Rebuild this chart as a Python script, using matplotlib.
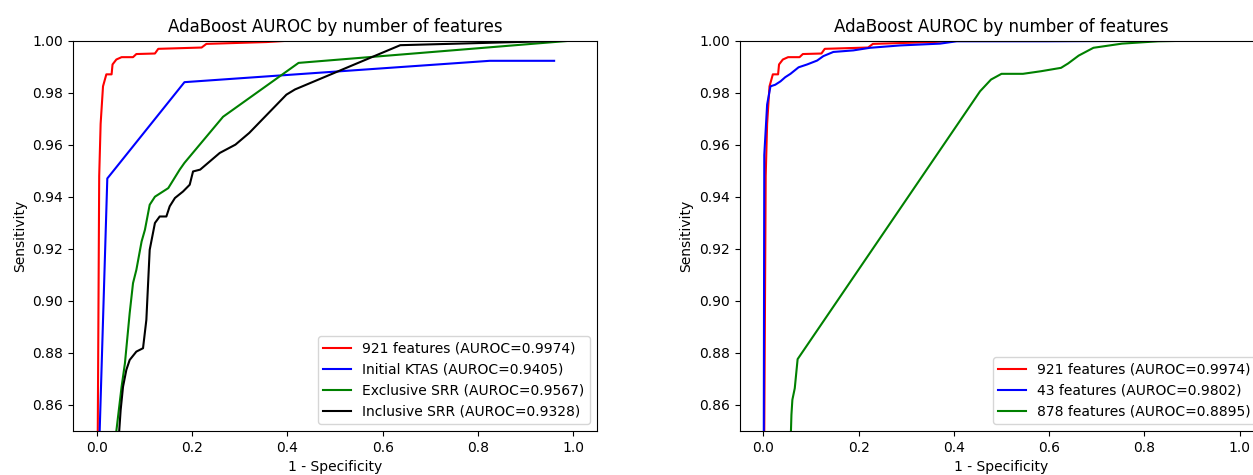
import numpy as np
import matplotlib
matplotlib.use('Agg')
import matplotlib.pyplot as plt

# 921 features (same curve in both panels)
fpr_921 = [0.0, 0.002, 0.005, 0.008, 0.013, 0.020, 0.031, 0.033, 0.041, 0.052, 0.076, 0.083,
           0.122, 0.129, 0.220, 0.230, 0.356, 0.410, 1.0]
tpr_921 = [0.0, 0.850, 0.948, 0.968, 0.9824, 0.987, 0.987, 0.9908, 0.9927, 0.9936, 0.9936, 0.9948,
           0.9950, 0.9968, 0.9973, 0.9987, 0.9994, 1.0, 1.0]

# Initial KTAS
fpr_ktas = [0.0, 0.006, 0.022, 0.184, 0.825, 0.960]
tpr_ktas = [0.0, 0.850, 0.947, 0.984, 0.9922, 0.9922]

# Exclusive SRR
fpr_excl = [0.0, 0.041, 0.045, 0.052, 0.059, 0.069, 0.076, 0.083, 0.094, 0.101, 0.111, 0.122,
            0.150, 0.174, 0.184, 0.265, 0.4235, 1.0]
tpr_excl = [0.0, 0.850, 0.8562, 0.867, 0.876, 0.8953, 0.9068, 0.9119, 0.9228, 0.9273, 0.9369, 0.940,
            0.9433, 0.9504, 0.953, 0.9707, 0.9914, 1.0]

# Inclusive SRR
fpr_incl = [0.0, 0.047, 0.050, 0.055, 0.062, 0.069, 0.083, 0.097, 0.104, 0.111, 0.122, 0.132,
            0.146, 0.153, 0.164, 0.181, 0.195, 0.202, 0.217, 0.258, 0.291, 0.320, 0.398, 0.416,
            0.637, 1.0]
tpr_incl = [0.0, 0.850, 0.858, 0.867, 0.8735, 0.8773, 0.8805, 0.8818, 0.8927, 0.9196, 0.9299, 0.9324,
            0.9324, 0.9363, 0.9395, 0.9420, 0.9446, 0.9497, 0.9504, 0.9568, 0.960, 0.9645, 0.9792, 0.9812,
            0.9982, 1.0]

# 43 features
fpr_43 = [0.0, 0.001, 0.002, 0.008, 0.015, 0.025, 0.036, 0.046, 0.057, 0.074, 0.092, 0.113, 0.126,
          0.147, 0.189, 0.224, 0.287, 0.371, 0.406, 0.595, 1.0]
tpr_43 = [0.0, 0.850, 0.956, 0.9754, 0.9824, 0.983, 0.9843, 0.9859, 0.9872, 0.9897, 0.9908, 0.9923,
          0.994, 0.9956, 0.9962, 0.9972, 0.9981, 0.9988, 0.9997, 0.9997, 1.0]

# 878 features
fpr_878 = [0.0, 0.058, 0.059, 0.061, 0.066, 0.072, 0.455, 0.478, 0.500, 0.545, 0.583, 0.625, 0.640,
           0.662, 0.693, 0.753, 0.829, 0.919, 1.0]
tpr_878 = [0.0, 0.850, 0.8562, 0.862, 0.8664, 0.8776, 0.9805, 0.985, 0.9872, 0.9872, 0.9882, 0.9895, 0.9912,
           0.9942, 0.9972, 0.9988, 0.9997, 1.0, 1.0]

left_curves = [
    (fpr_921, tpr_921, 'red', '921 features (AUROC=0.9974)'),
    (fpr_ktas, tpr_ktas, 'blue', 'Initial KTAS (AUROC=0.9405)'),
    (fpr_excl, tpr_excl, 'green', 'Exclusive SRR (AUROC=0.9567)'),
    (fpr_incl, tpr_incl, 'black', 'Inclusive SRR (AUROC=0.9328)'),
]
right_curves = [
    (fpr_921, tpr_921, 'red', '921 features (AUROC=0.9974)'),
    (fpr_43, tpr_43, 'blue', '43 features (AUROC=0.9802)'),
    (fpr_878, tpr_878, 'green', '878 features (AUROC=0.8895)'),
]

fig = plt.figure(figsize=(12.53, 4.75), dpi=100)
ax1 = fig.add_axes([73 / 1253, 44 / 475, 524 / 1253, 390.5 / 475])
ax2 = fig.add_axes([739.5 / 1253, 44 / 475, 524 / 1253, 390.5 / 475])

for ax, curves in [(ax1, left_curves), (ax2, right_curves)]:
    for fpr, tpr, color, label in curves:
        ax.plot(fpr, tpr, color=color, label=label)
    ax.set_xlim(-0.05, 1.05)
    ax.set_ylim(0.85, 1.0)
    ax.set_yticks(np.arange(0.86, 1.001, 0.02))
    ax.set_xlabel('1 - Specificity')
    ax.set_ylabel('Sensitivity')
    ax.set_title('AdaBoost AUROC by number of features')
    ax.legend(loc='lower right')

fig.savefig('out.png', dpi=100)
